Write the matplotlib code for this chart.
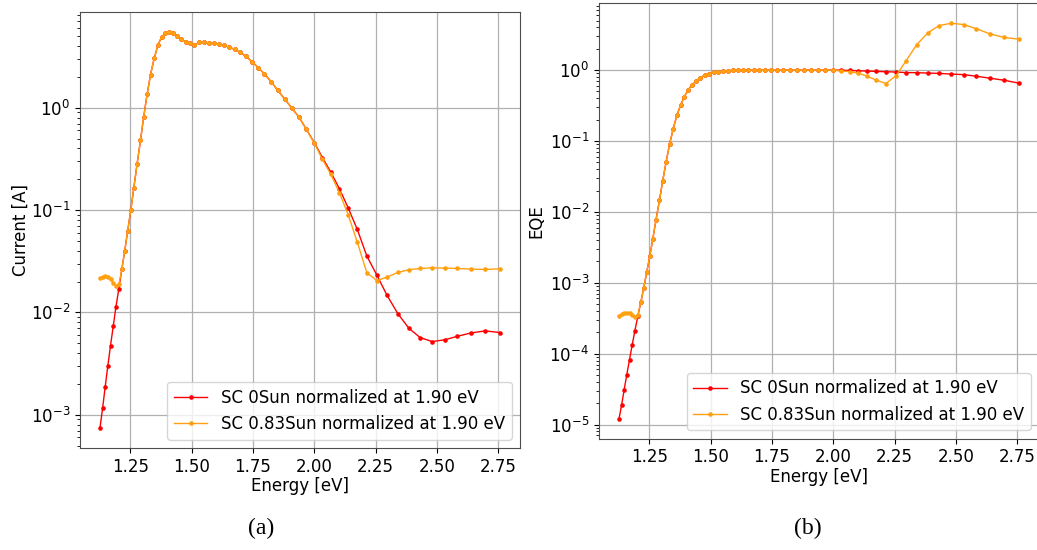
import matplotlib
matplotlib.use("Agg")
import matplotlib.pyplot as plt

# photon energy of each measured point [eV]
energy = [1.127, 1.138, 1.148, 1.159, 1.170, 1.181, 1.192, 1.204, 1.216, 1.228,
          1.240, 1.253, 1.265, 1.278, 1.292, 1.305, 1.319, 1.333, 1.348, 1.363,
          1.378, 1.393, 1.409, 1.425, 1.442, 1.459, 1.476, 1.494, 1.512, 1.531,
          1.550, 1.570, 1.590, 1.610, 1.632, 1.653, 1.676, 1.699, 1.722, 1.746,
          1.771, 1.797, 1.824, 1.851, 1.879, 1.908, 1.938, 1.968, 2.000, 2.033,
          2.067, 2.102, 2.138, 2.175, 2.214, 2.255, 2.296, 2.340, 2.385, 2.431,
          2.480, 2.531, 2.583, 2.638, 2.696, 2.756]

# (a) current
current_0sun = [7.4e-4, 1.17e-3, 1.85e-3, 3.0e-3, 4.74e-3, 7.3e-3, 1.13e-2, 1.71e-2, 0.0263, 0.040,
                0.063, 0.101, 0.166, 0.28, 0.48, 0.81, 1.35, 2.11, 3.05, 4.09,
                4.9, 5.36, 5.52, 5.36, 5.04, 4.68, 4.41, 4.25, 4.06, 4.37,
                4.35, 4.31, 4.25, 4.15, 4.06, 3.91, 3.71, 3.47, 3.17, 2.83,
                2.47, 2.14, 1.80, 1.48, 1.22, 0.995, 0.807, 0.613, 0.455, 0.326,
                0.235, 0.162, 0.105, 0.0647, 0.0355, 0.0231, 0.0147, 0.00975, 0.0070, 0.00568,
                0.00519, 0.0054, 0.00585, 0.0063, 0.0066, 0.00636]
current_083sun = [0.0216, 0.0223, 0.0226, 0.0223, 0.0210, 0.0195, 0.0181, 0.0188, 0.0263, 0.040,
                  0.063, 0.101, 0.166, 0.28, 0.48, 0.81, 1.35, 2.11, 3.05, 4.09,
                  4.9, 5.36, 5.52, 5.36, 5.04, 4.68, 4.41, 4.25, 4.06, 4.37,
                  4.35, 4.31, 4.25, 4.15, 4.06, 3.91, 3.71, 3.47, 3.17, 2.83,
                  2.47, 2.14, 1.80, 1.48, 1.22, 0.995, 0.807, 0.613, 0.45, 0.313,
                  0.224, 0.148, 0.090, 0.0486, 0.0244, 0.0205, 0.0221, 0.0246, 0.0261, 0.0269,
                  0.0273, 0.0271, 0.0269, 0.0265, 0.0263, 0.0267]

# (b) EQE
eqe_0sun = [1.2e-5, 1.9e-5, 3.08e-5, 5.07e-5, 8.26e-5, 1.34e-4, 2.12e-4, 3.4e-4, 5.33e-4, 8.47e-4,
            1.41e-3, 2.42e-3, 4.2e-3, 7.8e-3, 0.0146, 0.0274, 0.0507, 0.090, 0.150, 0.231,
            0.320, 0.423, 0.526, 0.625, 0.711, 0.784, 0.847, 0.893, 0.934, 0.953,
            0.970, 0.983, 0.991, 0.996, 0.998, 1.0, 1.0, 1.0, 1.0, 1.0,
            1.0, 1.0, 1.0, 1.0, 1.0, 1.0, 1.0, 1.0, 1.0, 0.998,
            0.99, 0.98, 0.97, 0.96, 0.95, 0.94, 0.925, 0.92, 0.91, 0.90,
            0.88, 0.865, 0.82, 0.77, 0.72, 0.655]
eqe_083sun = [3.45e-4, 3.6e-4, 3.76e-4, 3.8e-4, 3.73e-4, 3.53e-4, 3.34e-4, 3.53e-4, 5.33e-4, 8.47e-4,
              1.41e-3, 2.42e-3, 4.2e-3, 7.8e-3, 0.0146, 0.0274, 0.0507, 0.090, 0.150, 0.231,
              0.320, 0.423, 0.526, 0.625, 0.711, 0.784, 0.847, 0.893, 0.934, 0.953,
              0.970, 0.983, 0.991, 0.996, 0.998, 1.0, 1.0, 1.0, 1.0, 1.0,
              1.0, 1.0, 1.0, 1.0, 1.0, 1.0, 1.0, 1.0, 1.0, 0.967,
              0.957, 0.906, 0.822, 0.722, 0.648, 0.831, 1.35, 2.30, 3.36, 4.26,
              4.59, 4.40, 3.83, 3.25, 2.89, 2.73]

labels = ["SC 0Sun normalized at 1.90 eV", "SC 0.83Sun normalized at 1.90 eV"]
colors = ["#ff0000", "#ffa010"]

plt.rcParams["font.size"] = 12

fig = plt.figure(figsize=(10.37, 5.5), dpi=100)
ax1 = fig.add_axes([0.0771, 0.1855, 0.4243, 0.7927])
ax2 = fig.add_axes([0.5776, 0.2024, 0.4243, 0.7913])

panels = [(ax1, current_0sun, current_083sun, "Current [A]"),
          (ax2, eqe_0sun, eqe_083sun, "EQE")]

for ax, y0, y1, ylab in panels:
    ax.plot(energy, y0, "-o", color=colors[0], lw=1.0, ms=3.3, mew=0, label=labels[0])
    ax.plot(energy, y1, "-o", color=colors[1], lw=1.0, ms=3.3, mew=0, label=labels[1])
    ax.set_yscale("log")
    ax.set_xticks([1.25, 1.50, 1.75, 2.00, 2.25, 2.50, 2.75])
    ax.set_xlabel("Energy [eV]", labelpad=1)
    ax.grid(True, color="#b0b0b0", lw=0.9)
    ax.legend(loc="lower right", fontsize=12)
    for s in ax.spines.values():
        s.set_color("0.3")

ax1.set_ylabel("Current [A]", labelpad=1)
ax2.set_ylabel("EQE", labelpad=3)

fig.text(0.252, 0.040, "(a)", ha="center", va="center", fontsize=17, family="Liberation Serif")
fig.text(0.779, 0.040, "(b)", ha="center", va="center", fontsize=17, family="Liberation Serif")

fig.savefig("out.png", dpi=100)
